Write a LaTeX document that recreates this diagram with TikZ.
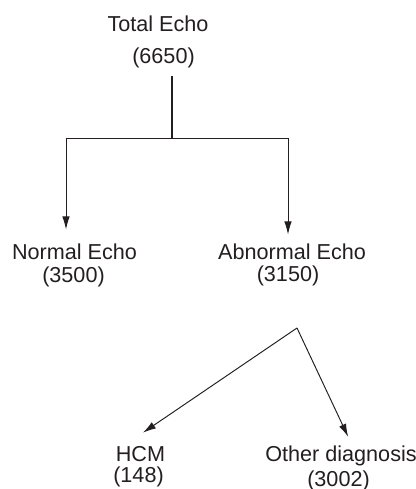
\documentclass[tikz,border=0pt]{standalone}
\usepackage{fontspec}
\setmainfont{Liberation Sans}
\usepackage{xcolor}
\usepackage{tikz}
\usetikzlibrary{arrows.meta}
\definecolor{ink}{HTML}{231F20}

\begin{document}
\begin{tikzpicture}[scale=0.2]
\tikzstyle{every node}+=[inner sep=0pt, anchor=base, text=ink, font=\fontsize{12.3}{14}\selectfont]
\tikzstyle{line}=[ink, line width=0.55pt]
\tikzstyle{trunk}=[ink, line width=0.9pt]
\tikzstyle{arr}=[line, -{Latex[length=0.26cm, width=0.15cm]}]
\useasboundingbox (0,0) rectangle (41.5,-48.9);
\draw (15.8,-3.2) node (total) {Total Echo};
\draw (16.35,-6.4) node (totaln) {(6650)};
\draw (7.45,-26.0) node (normal) {Normal Echo};
\draw (7.35,-28.3) node (normaln) {(3500)};
\draw (29.2,-26.0) node (abnormal) {Abnormal Echo};
\draw (28.8,-28.1) node (abnormaln) {(3150)};
\draw (14.05,-46.1) node (hcm) {HCM};
\draw (13.85,-48.2) node (hcmn) {(148)};
\draw (34.1,-46.1) node (other) {Other diagnosis};
\draw (33.85,-48.6) node (othern) {(3002)};
\coordinate (j) at (17.2,-13.8);
\coordinate (jl) at (6.6,-13.8);
\coordinate (jr) at (28.8,-13.8);
\coordinate (apex) at (29.7,-32.8);
\draw [trunk, shorten <=0.15cm] (j |- totaln.south) -- (j);
\draw [line] (jl) -- (jr);
\draw [arr, shorten >=0.29cm] (jl) -- (jl |- normal.north);
\draw [arr, shorten >=0.19cm] (jr) -- (jr |- abnormal.north);
\draw [arr, shorten >=0.46cm] (apex) -- ([xshift=-1.65cm]hcm.north);
\draw [arr, shorten >=0.18cm] (apex) -- ([xshift=1.1cm]other.north);
\end{tikzpicture}
\end{document}
